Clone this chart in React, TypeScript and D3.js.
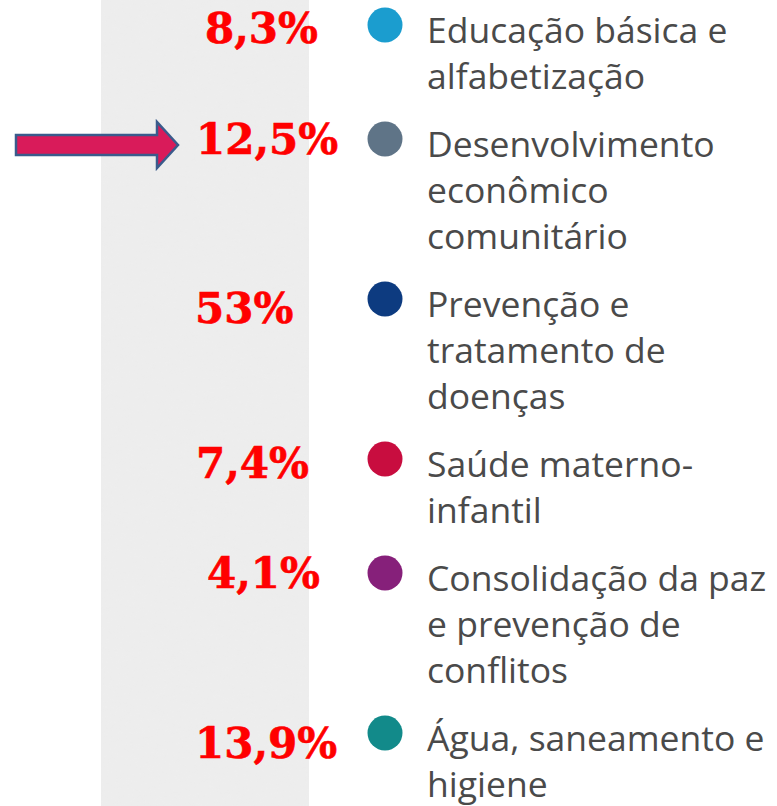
import React from "react";
import * as d3 from "d3";

// ---- data ----
const categories: string[][] = [
  ["Educação básica e", "alfabetização"],
  ["Desenvolvimento", "econômico", "comunitário"],
  ["Prevenção e", "tratamento de", "doenças"],
  ["Saúde materno-", "infantil"],
  ["Consolidação da paz", "e prevenção de", "conflitos"],
  ["Água, saneamento e", "higiene"],
];
const percentLabels: string[] = ["8,3%", "12,5%", "53%", "7,4%", "4,1%", "13,9%"];
const dotColors: string[] = ["#1b9dcf", "#5f7487", "#0d3b80", "#c80d3f", "#86207a", "#128a8a"];
const highlightedIndex = 1;

// ---- layout (not data) ----
const W = 777;
const H = 806;
const LINE_H = 46;
const ROW_GAP = 22;
const Y0 = 25;
const labelDx = [205, 196, 195, 196, 207, 195];
const labelDy = [18, 15, 24, 19, 15, 25];

export default function App() {
  const rowHeights = categories.map((c) => c.length * LINE_H + ROW_GAP);
  const offsets = [0, ...Array.from(d3.cumsum(rowHeights)).slice(0, -1)];
  const y = d3.scaleLinear().domain([0, 1]).range([Y0, Y0 + 1]);
  const rowsY = offsets.map((o) => y(0) + o);
  const dotX = 385;
  const textX = 427;
  const ay = rowsY[highlightedIndex] + 6;

  const arrowPath = d3.path();
  arrowPath.moveTo(16, ay - 10);
  arrowPath.lineTo(157, ay - 10);
  arrowPath.lineTo(157, ay - 23);
  arrowPath.lineTo(178, ay);
  arrowPath.lineTo(157, ay + 23);
  arrowPath.lineTo(157, ay + 10);
  arrowPath.lineTo(16, ay + 10);
  arrowPath.closePath();

  return (
    <svg
      width={W}
      height={H}
      style={{ position: "absolute", left: 0, top: 0, display: "block", background: "#ffffff" }}
    >
      <defs>
        <filter id="paper" x="0" y="0" width="100%" height="100%">
          <feTurbulence type="fractalNoise" baseFrequency="0.06 0.2" numOctaves="2" seed="3" result="n" />
          <feColorMatrix
            in="n"
            type="matrix"
            values="0 0 0 0 0.85  0 0 0 0 0.85  0 0 0 0 0.85  0 0 0 0.5 0"
          />
        </filter>
      </defs>
      <rect x={101} y={0} width={208} height={H} fill="#ededed" />
      <rect x={101} y={0} width={208} height={H} fill="#ededed" filter="url(#paper)" opacity={0.5} />

      <path d={arrowPath.toString()} fill="#d91b5a" stroke="#3a5b8c" strokeWidth={2.5} strokeLinejoin="miter" />

      {categories.map((lines, i) => (
        <g key={i}>
          <text
            x={labelDx[i]}
            y={rowsY[i] + labelDy[i]}
            fill="#ff0000"
            stroke="#ff0000"
            strokeWidth={0.6}
            fontFamily="'DejaVu Serif', serif"
            fontWeight="bold"
            fontSize={42}
          >
            {percentLabels[i]}
          </text>
          <circle cx={dotX} cy={rowsY[i]} r={17.5} fill={dotColors[i]} />
          {lines.map((ln, j) => (
            <text
              key={j}
              x={textX}
              y={rowsY[i] + 18 + j * LINE_H}
              fill="#4a4a4a"
              fontFamily="'Open Sans', sans-serif"
              fontSize={35.5}
            >
              {ln}
            </text>
          ))}
        </g>
      ))}
    </svg>
  );
}
